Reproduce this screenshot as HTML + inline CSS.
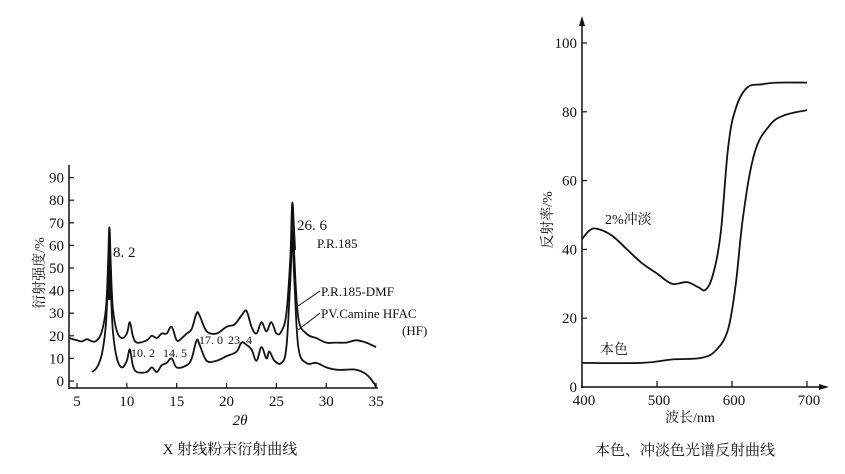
<!DOCTYPE html>
<html><head><meta charset="utf-8"><style>
body{margin:0;background:#fff;}
svg{display:block;font-family:"Liberation Serif","Noto Serif CJK SC",serif;}
</style></head><body>
<svg id="s" width="845" height="474" viewBox="0 0 845 474" xmlns="http://www.w3.org/2000/svg">
<rect width="845" height="474" fill="#fff"/>
<g stroke="#111" stroke-width="1.5" fill="none">
<line x1="69" y1="165" x2="69" y2="389"/>
<line x1="69" y1="388" x2="378" y2="388"/>
<line x1="582" y1="22" x2="582" y2="388"/>
<line x1="581" y1="387" x2="822" y2="387"/>
</g>
<g stroke="#111" stroke-width="1.8" fill="none">
<path id="L1"/><path id="L2"/><path id="R1"/><path id="R2"/>
</g>
<g fill="#111">
<path d="M107 300 L109.5 229 L112 300Z"/>
<path d="M291 250 L293.6 203 L296 250Z"/>
</g>
<g stroke="#111" stroke-width="1" fill="none">
<line x1="298" y1="306" x2="320" y2="291"/>
<line x1="298" y1="330" x2="320" y2="313"/>
</g>
<path d="M582 16 L579 26 L585 26Z M829 387 L819 384 L819 390Z" fill="#111"/>
<g id="ticks" stroke="#111" stroke-width="1.2"></g>
<g font-size="15" fill="#111" id="tl"></g>
<g fill="#111">
<text x="44" y="273" font-size="14" transform="rotate(-90 44 273)" text-anchor="middle">衍射强度/%</text>
<text x="113" y="257" font-size="15">8. 2</text>
<text x="297" y="230" font-size="15">26. 6</text>
<text x="317" y="248" font-size="13">P.R.185</text>
<text x="321" y="296" font-size="13">P.R.185-DMF</text>
<text x="321" y="318" font-size="13">PV.Camine HFAC</text>
<text x="402" y="335" font-size="13">(HF)</text>
<text x="131" y="357" font-size="12">10. 2</text>
<text x="163" y="357" font-size="12">14. 5</text>
<text x="199" y="344" font-size="12">17. 0</text>
<text x="228" y="344" font-size="12">23. 4</text>
<text x="240" y="425" font-size="15" font-style="italic" text-anchor="middle">2θ</text>
<text x="230" y="454" font-size="15" text-anchor="middle">X 射线粉末衍射曲线</text>
<text x="552" y="220" font-size="14" transform="rotate(-90 552 220)" text-anchor="middle">反射率/%</text>
<text x="605" y="224" font-size="14">2%冲淡</text>
<text x="600" y="354" font-size="14">本色</text>
<text x="690" y="422" font-size="14" text-anchor="middle">波长/nm</text>
<text x="685" y="455" font-size="15" text-anchor="middle">本色、冲淡色光谱反射曲线</text>
</g>
</svg>
<script>
function lx(x){return 77+(x-5)*9.97}function ly(y){return 381-y*2.26}
function rx(x){return 582+(x-400)*0.75}function ry(y){return 387-y*3.44}
function sm(pts,fx,fy){var p=pts.map(a=>[fx(a[0]),fy(a[1])]);var d="M"+p[0][0].toFixed(1)+" "+p[0][1].toFixed(1);
for(var i=0;i<p.length-1;i++){var p0=p[Math.max(0,i-1)],p1=p[i],p2=p[i+1],p3=p[Math.min(p.length-1,i+2)];var t=0.18;
d+=" C"+(p1[0]+(p2[0]-p0[0])*t).toFixed(1)+" "+(p1[1]+(p2[1]-p0[1])*t).toFixed(1)+" "+(p2[0]-(p3[0]-p1[0])*t).toFixed(1)+" "+(p2[1]-(p3[1]-p1[1])*t).toFixed(1)+" "+p2[0].toFixed(1)+" "+p2[1].toFixed(1);}return d;}
var u=[[4.2,19],[5,18],[5.5,17.5],[6,18.5],[6.5,17.5],[7,18],[7.5,22],[7.9,32],[8.1,50],[8.25,68],[8.4,50],[8.6,32],[9,22],[9.5,19],[10,21],[10.3,26],[10.6,20],[11,17],[12,18],[12.5,20],[13,19],[13.5,21],[14,21],[14.5,24],[15,18],[15.5,19],[16,21],[16.5,23],[17,30],[17.3,29],[18,22],[19,21],[20,24],[20.8,25],[21.5,29],[22,31],[22.5,24],[23,21],[23.5,26],[24,22],[24.5,26],[25,21],[25.5,22],[26,30],[26.4,55],[26.6,79],[26.8,55],[27.2,28],[28,21],[29,19],[30,17],[31,17],[32,17],[33,18],[34,17],[35,15]];
var l=[[6.5,4],[7,6],[7.5,12],[7.9,25],[8.1,45],[8.25,56],[8.4,40],[8.6,22],[9,10],[9.5,6],[10,9],[10.3,14],[10.6,7],[11,4],[12,4],[12.5,6],[13,4],[13.5,7],[14,8],[14.5,10],[15,6],[16,7],[16.5,10],[17,18],[17.3,16],[18,9],[19,9],[20,11],[21,13],[21.5,17],[22,16],[22.5,14],[23,9],[23.5,15],[24,10],[24.3,13],[24.8,9],[25.5,8],[26,15],[26.4,45],[26.6,63],[26.8,45],[27.2,15],[28,8],[29,8],[30,6],[31,5],[32,5],[33,5],[34,3],[34.8,-1],[35,-3]];
var a=[[400,43],[410,45.5],[420,46],[440,44],[460,40],[480,36],[500,33],[520,30],[540,30.5],[555,29],[565,28.3],[575,33],[585,45],[595,70],[605,81],[620,87],[640,88],[660,88.5],[700,88.5]];
var b=[[400,7],[480,7],[520,8],[560,8.5],[580,11],[595,17],[605,30],[615,50],[630,68],[650,76],[670,79],[700,80.5]];
document.getElementById("L1").setAttribute("d",sm(u,lx,ly));
document.getElementById("L2").setAttribute("d",sm(l,lx,ly));
document.getElementById("R1").setAttribute("d",sm(a,rx,ry));
document.getElementById("R2").setAttribute("d",sm(b,rx,ry));
var tk="",tl="";
for(var v=0;v<=90;v+=10){var y=ly(v);tk+='<line x1="69" y1="'+y+'" x2="74" y2="'+y+'"/>';tl+='<text x="64" y="'+(y+5)+'" text-anchor="end">'+v+'</text>';}
for(var v=5;v<=35;v+=5){var x=lx(v);tk+='<line x1="'+x+'" y1="388" x2="'+x+'" y2="383"/>';tl+='<text x="'+x+'" y="406" text-anchor="middle">'+v+'</text>';}
for(var v=0;v<=100;v+=20){var y=ry(v);tk+='<line x1="582" y1="'+y+'" x2="587" y2="'+y+'"/>';tl+='<text x="577" y="'+(y+5)+'" text-anchor="end">'+v+'</text>';}
for(var v=400;v<=700;v+=100){var x=rx(v);tk+='<line x1="'+x+'" y1="387" x2="'+x+'" y2="381"/>';tl+='<text x="'+(x+2)+'" y="405" text-anchor="middle">'+v+'</text>';}
document.getElementById("ticks").innerHTML=tk;document.getElementById("tl").innerHTML=tl;
</script>
</body></html>
